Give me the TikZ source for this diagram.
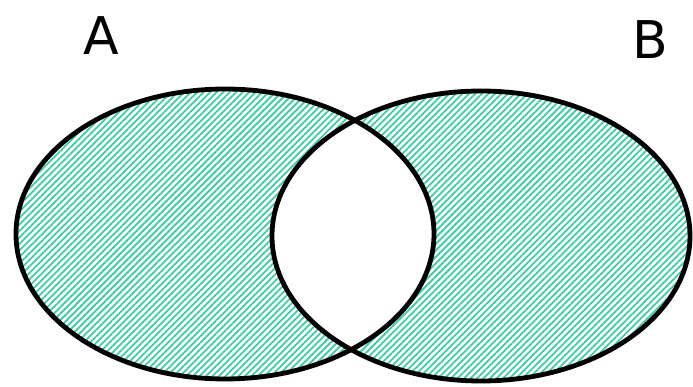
\documentclass[tikz,border=0pt]{standalone}
\usepackage{fontspec}
\setmainfont{DejaVu Sans}
\usetikzlibrary{patterns.meta}

\definecolor{hatchteal}{RGB}{60,205,165}

\begin{document}
\begin{tikzpicture}[x=1pt, y=-1pt]
    % Khung hình
    \useasboundingbox (0,0) rectangle (693,387);

    % Hiệu đối xứng của A và B
    \fill[even odd rule, pattern={Lines[angle=45, distance=4.6pt, line width=1.8pt]}, pattern color=hatchteal]
        (225,234) ellipse [x radius=209, y radius=145]
        (481,236) ellipse [x radius=209, y radius=145];

    % Hai tập hợp
    \draw[line width=4.8pt] (225,234) ellipse [x radius=209, y radius=145];
    \draw[line width=4.8pt] (481,236) ellipse [x radius=209, y radius=145];

    \node (labelA) at (101,36) {\fontsize{52}{60}\selectfont A};
    \node (labelB) at (650,40) {\fontsize{52}{60}\selectfont B};
\end{tikzpicture}
\end{document}
